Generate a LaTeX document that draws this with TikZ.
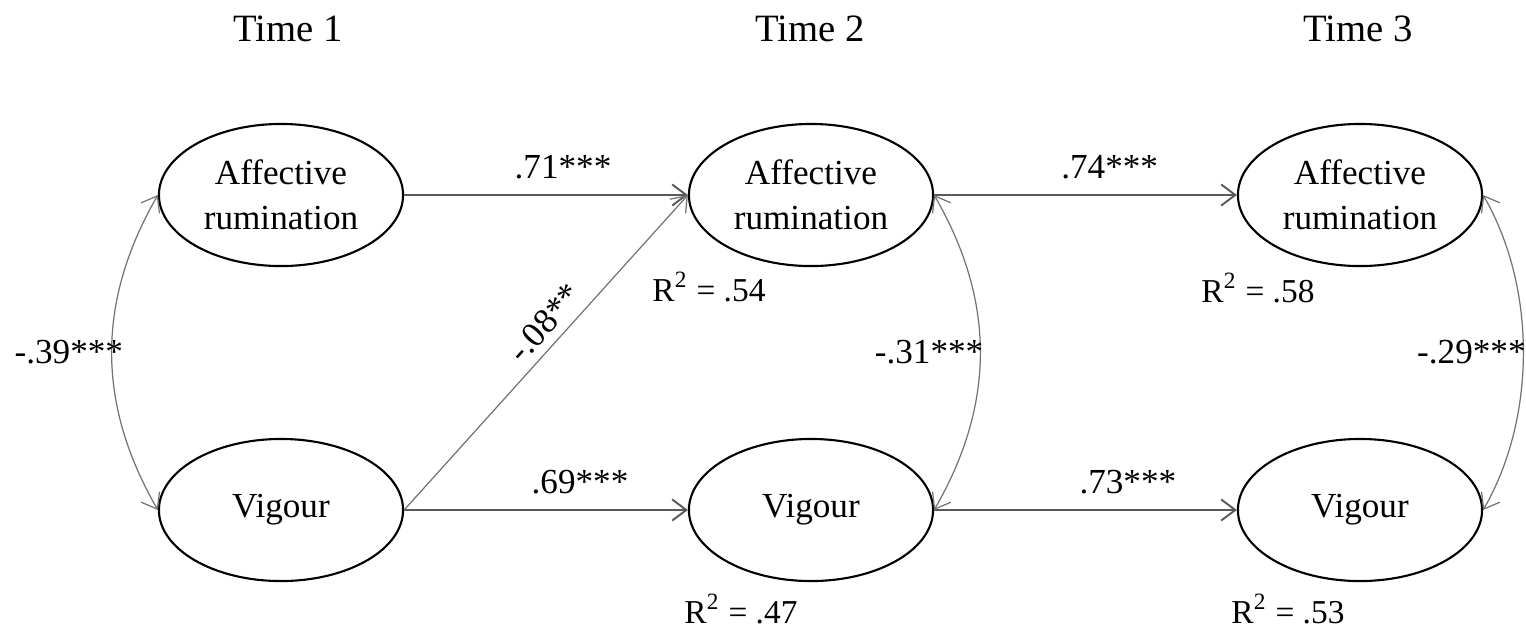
\documentclass[tikz,border=0pt]{standalone}
\usepackage{fontspec}
\setmainfont{Liberation Serif}
\usepackage{xcolor}
\usepackage{tikz}
\usetikzlibrary{shapes.geometric,arrows.meta}
\definecolor{pathgray}{rgb}{0.35, 0.35, 0.35}
\definecolor{covgray}{rgb}{0.45, 0.45, 0.45}

\begin{document}
\begin{tikzpicture}[x=0.01cm, y=0.01cm,
    latent/.style={draw=black, line width=0.6pt, ellipse, minimum width=2.44cm, minimum height=1.42cm,
        inner sep=0pt, align=center, font=\fontsize{10}{12.8}\selectfont},
    title/.style={font=\fontsize{11}{13}\selectfont},
    coef/.style={text=black, font=\fontsize{10}{12}\selectfont},
    rsq/.style={font=\fontsize{9.5}{11}\selectfont},
    regpath/.style={-{Straight Barb[length=4pt,width=6pt]}, line width=0.55pt, pathgray},
    covpath/.style={{Straight Barb[length=4pt,width=6pt]}-{Straight Barb[length=4pt,width=6pt]},
        line width=0.35pt, covgray}]
    \useasboundingbox (0,0) rectangle (1526,-626);

    \foreach \x/\tx [count=\i] in {281/288, 811/810, 1360/1358} {
        \node[title] (time-\i) at (\tx, -29) {Time \i};
        \node[latent] (aff-\i) at (\x, -195) {Affective\\rumination};
        \node[latent] (vig-\i) at (\x, -510) {Vigour};
    }

    % cross-lagged and stability paths
    \draw[regpath] (aff-1) -- node[coef, pos=0.56, above=1pt] {.71***} (aff-2);
    \draw[regpath] (vig-1) -- node[coef, pos=0.62, above=1pt] {.69***} (vig-2);
    \draw[regpath, line width=0.35pt, covgray] (vig-1.east) -- node[coef, sloped, pos=0.55, above=-1pt] {-.08**} (aff-2.west);
    \draw[regpath] (aff-2) -- node[coef, pos=0.58, above=1pt] {.74***} (aff-3);
    \draw[regpath] (vig-2) -- node[coef, pos=0.64, above=1pt] {.73***} (vig-3);

    % covariances
    \draw[covpath] (aff-1.west) to[out=240, in=120] node[coef, midway, left=-6.7pt] {-.39***} (vig-1.west);
    \draw[covpath] (aff-2.east) to[out=-60, in=60] node[coef, midway, left=-4.4pt] {-.31***} (vig-2.east);
    \draw[covpath] (aff-3.east) to[out=-60, in=60, looseness=0.87] node[coef, midway, left=-4.2pt] {-.29***} (vig-3.east);

    \node[rsq] (r2-aff-2) at (709, -287) {R\textsuperscript{2} = .54};
    \node[rsq] (r2-vig-2) at (741, -609) {R\textsuperscript{2} = .47};
    \node[rsq] (r2-aff-3) at (1258, -288) {R\textsuperscript{2} = .58};
    \node[rsq] (r2-vig-3) at (1288, -609) {R\textsuperscript{2} = .53};
\end{tikzpicture}
\end{document}
